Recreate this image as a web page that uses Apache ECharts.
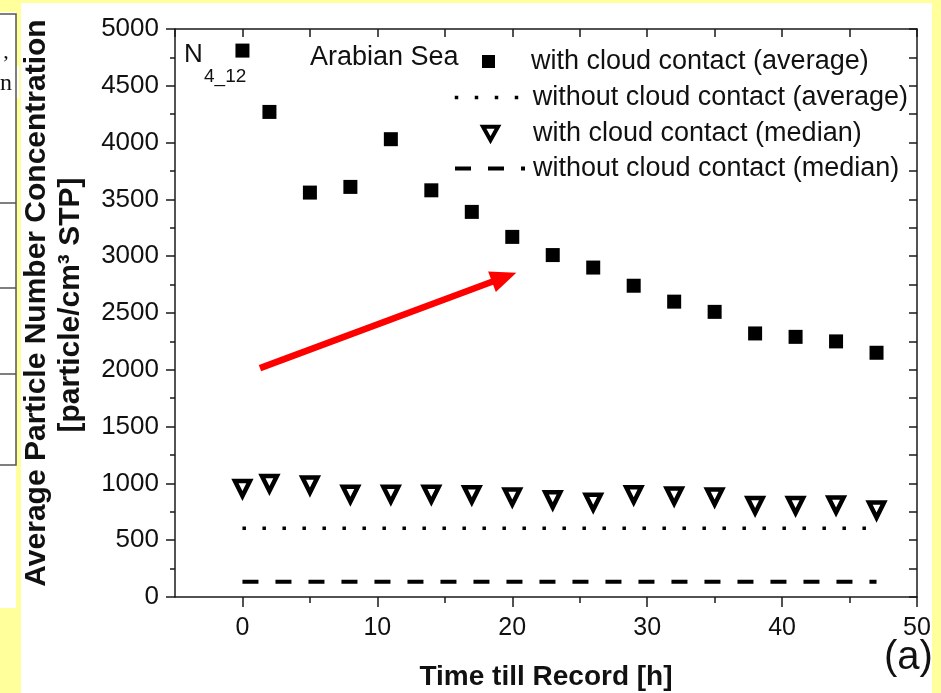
<!DOCTYPE html>
<html>
<head>
<meta charset="utf-8">
<script src="https://cdn.jsdelivr.net/npm/echarts@6/dist/echarts.min.js"></script>
<style>
  html, body { margin: 0; padding: 0; background: #fff; }
  #chart { width: 941px; height: 693px; }
</style>
</head>
<body>
<div id="chart"></div>
<script>
// time till record [h]
const times = [0, 2, 5, 8, 11, 14, 17, 20, 23, 26, 29, 32, 35, 38, 41, 44, 47];
// with cloud contact (average)
const avgCloud = [4810, 4270, 3560, 3610, 4030, 3580, 3390, 3170, 3010, 2900, 2740, 2600, 2510, 2320, 2290, 2250, 2150];
// with cloud contact (median)
const medCloud = [955, 1000, 985, 905, 905, 905, 900, 880, 855, 835, 900, 890, 880, 805, 805, 810, 765];
// without cloud contact, drawn as flat reference lines
const avgNoCloud = [605, 605, 605, 605, 605, 605, 605, 605, 605, 605, 605, 605, 605, 605, 605, 605, 605];
const medNoCloud = [135, 135, 135, 135, 135, 135, 135, 135, 135, 135, 135, 135, 135, 135, 135, 135, 135];

const xLabels = [0, 10, 20, 30, 40, 50];
const xMinorTicks = [5, 15, 25, 35, 45];

// red arrow annotation in data space
const arrowFrom = [1.3, 2015];
const arrowTo = [19.4, 2815];

const seriesNames = [
  'with cloud contact (average)',
  'without cloud contact (average)',
  'with cloud contact (median)',
  'without cloud contact (median)'
];

const font = "'Liberation Sans', Arial, sans-serif";
const axisColor = '#1a1a1a';
const legendText = { fontFamily: font, fontSize: 27, color: '#111', lineHeight: 26 };

const pairs = (ys) => times.map((t, i) => [t, ys[i]]);

const chart = echarts.init(document.getElementById('chart'));

const baseX = {
  type: 'value',
  min: -5,
  max: 50,
  interval: 5,
  splitLine: { show: false },
  axisLine: { show: true, onZero: false, lineStyle: { color: axisColor, width: 1.5 } }
};

// one legend per row so each icon can have its own box
function legendRow(name, top, left, w, h, padLeft, extra) {
  return Object.assign({
    orient: 'vertical',
    left: left,
    top: top,
    padding: 0,
    itemWidth: w,
    itemHeight: h,
    selectedMode: false,
    textStyle: Object.assign({ padding: [0, 0, 0, padLeft] }, legendText),
    data: [{ name: name }]
  }, extra || {});
}

chart.setOption({
  backgroundColor: '#fff',
  animation: false,
  grid: { left: 175, top: 29, right: 24, bottom: 96, outerBoundsMode: 'none' },
  legend: [
    legendRow(seriesNames[0], 48, 482, 13, 13, 31, {
      data: [{ name: seriesNames[0], icon: 'rect', itemStyle: { color: '#000', opacity: 1 } }]
    }),
    legendRow(seriesNames[1], 84, 453, 70, 13, 3, {
      data: [{ name: seriesNames[1], itemStyle: { opacity: 0 }, lineStyle: { color: '#000', width: 3.5 } }]
    }),
    legendRow(seriesNames[2], 120, 481, 15, 14, 30, {
      data: [{ name: seriesNames[2], icon: 'path://M0,0L20,0L10,18Z', itemStyle: { color: '#fff', borderColor: '#000', borderWidth: 4, opacity: 1 } }]
    }),
    legendRow(seriesNames[3], 155, 453, 70, 13, 3, {
      data: [{ name: seriesNames[3], itemStyle: { opacity: 0 }, lineStyle: { color: '#000', width: 4 } }]
    })
  ],
  xAxis: [
    Object.assign({}, baseX, {
      position: 'bottom',
      axisTick: { show: true, inside: false, length: 10, customValues: xLabels, lineStyle: { color: axisColor, width: 1.5 } },
      axisLabel: { customValues: xLabels, fontFamily: font, fontSize: 25, color: '#111', margin: 19 },
      name: 'Time till Record [h]',
      nameLocation: 'middle',
      nameGap: 66,
      nameTextStyle: { fontFamily: font, fontSize: 28, fontWeight: 'bold', color: '#111' }
    }),
    Object.assign({}, baseX, {
      position: 'bottom',
      axisLine: { show: false, onZero: false },
      axisTick: { show: true, inside: false, length: 6, customValues: xMinorTicks, lineStyle: { color: axisColor, width: 1.5 } },
      axisLabel: { show: false }
    }),
    Object.assign({}, baseX, {
      position: 'top',
      axisTick: { show: true, inside: true, length: 8, lineStyle: { color: axisColor, width: 1.5 } },
      axisLabel: { show: false }
    })
  ],
  yAxis: [
    {
      type: 'value',
      position: 'left',
      min: 0,
      max: 5000,
      interval: 500,
      splitLine: { show: false },
      axisLine: { show: true, onZero: false, lineStyle: { color: axisColor, width: 1.5 } },
      axisTick: { show: true, inside: false, length: 9, lineStyle: { color: axisColor, width: 1.5 } },
      minorTick: { show: true, splitNumber: 2, length: 5, lineStyle: { color: axisColor, width: 1.5 } },
      axisLabel: { fontFamily: font, fontSize: 26, color: '#111', margin: 16, formatter: (v) => String(v) }
    },
    {
      type: 'value',
      position: 'right',
      min: 0,
      max: 5000,
      interval: 250,
      splitLine: { show: false },
      axisLine: { show: true, onZero: false, lineStyle: { color: axisColor, width: 1.5 } },
      axisTick: { show: true, inside: true, length: 8, lineStyle: { color: axisColor, width: 1.5 } },
      axisLabel: { show: false }
    }
  ],
  series: [
    {
      name: seriesNames[0],
      type: 'scatter',
      symbol: 'rect',
      symbolSize: 14,
      itemStyle: { color: '#000', opacity: 1 },
      data: pairs(avgCloud),
      markLine: {
        silent: true,
        symbol: ['none', 'triangle'],
        symbolSize: [22, 26],
        label: { show: false },
        lineStyle: { color: '#f00', width: 6.5, type: 'solid', opacity: 1 },
        data: [[{ coord: arrowFrom }, { coord: arrowTo }]]
      }
    },
    {
      name: seriesNames[1],
      type: 'line',
      symbol: 'none',
      itemStyle: { color: '#000' },
      lineStyle: { color: '#000', width: 3.5, type: [3.5, 16.5] },
      data: pairs(avgNoCloud)
    },
    {
      name: seriesNames[2],
      type: 'scatter',
      symbol: 'triangle',
      symbolRotate: 180,
      symbolSize: 15,
      itemStyle: { color: '#fff', borderColor: '#000', borderWidth: 4.5, opacity: 1 },
      data: pairs(medCloud)
    },
    {
      name: seriesNames[3],
      type: 'line',
      symbol: 'none',
      itemStyle: { color: '#000' },
      lineStyle: { color: '#000', width: 4, type: [16, 17] },
      data: pairs(medNoCloud)
    }
  ],
  graphic: [
    // yellow slide background around the figure
    { type: 'rect', z: -10, shape: { x: 0, y: 0, width: 941, height: 3 }, style: { fill: '#ffff9c' } },
    { type: 'rect', z: -10, shape: { x: 932, y: 0, width: 9, height: 693 }, style: { fill: '#ffff9c' } },
    { type: 'rect', z: -10, shape: { x: 0, y: 0, width: 21, height: 693 }, style: { fill: '#ffff9c' } },
    // clipped table on the left
    { type: 'rect', z: -9, shape: { x: 0, y: 12, width: 16, height: 596 }, style: { fill: '#fff' } },
    { type: 'rect', z: -9, shape: { x: 0, y: 66, width: 19, height: 32 }, style: { fill: '#fff' } },
    { type: 'polyline', z: -8, shape: { points: [[0, 14], [16, 14], [16, 465], [0, 465]] }, style: { stroke: '#555', lineWidth: 1.5, fill: null } },
    { type: 'line', z: -8, shape: { x1: 0, y1: 203, x2: 16, y2: 203 }, style: { stroke: '#555', lineWidth: 1.5 } },
    { type: 'line', z: -8, shape: { x1: 0, y1: 288, x2: 16, y2: 288 }, style: { stroke: '#555', lineWidth: 1.5 } },
    { type: 'line', z: -8, shape: { x1: 0, y1: 374, x2: 16, y2: 374 }, style: { stroke: '#555', lineWidth: 1.5 } },
    { type: 'text', z: -7, x: 6, y: 52, style: { text: ',', font: "22px 'Liberation Serif'", fill: '#111', align: 'center', verticalAlign: 'middle' } },
    { type: 'text', z: -7, x: 6, y: 84, style: { text: 'n', font: "24px 'Liberation Serif'", fill: '#111', align: 'center', verticalAlign: 'middle' } },
    // y axis title
    { type: 'text', x: 37, y: 303, rotation: Math.PI / 2, style: { text: 'Average Particle Number Concentration', font: 'bold 30px ' + font, fill: '#111', align: 'center', verticalAlign: 'middle' } },
    { type: 'text', x: 71, y: 305, rotation: Math.PI / 2, style: { text: '[particle/cm³ STP]', font: 'bold 30px ' + font, fill: '#111', align: 'center', verticalAlign: 'middle' } },
    // in-plot labels
    { type: 'text', x: 184, y: 55, style: { text: 'N', font: '26px ' + font, fill: '#111', verticalAlign: 'middle' } },
    { type: 'text', x: 204, y: 77, style: { text: '4_12', font: '19px ' + font, fill: '#111', verticalAlign: 'middle' } },
    { type: 'text', x: 310, y: 58, style: { text: 'Arabian Sea', font: '27px ' + font, fill: '#111', verticalAlign: 'middle' } },
    { type: 'text', x: 884, y: 658, style: { text: '(a)', font: '40px ' + font, fill: '#111', verticalAlign: 'middle' } }
  ]
});
</script>
</body>
</html>
